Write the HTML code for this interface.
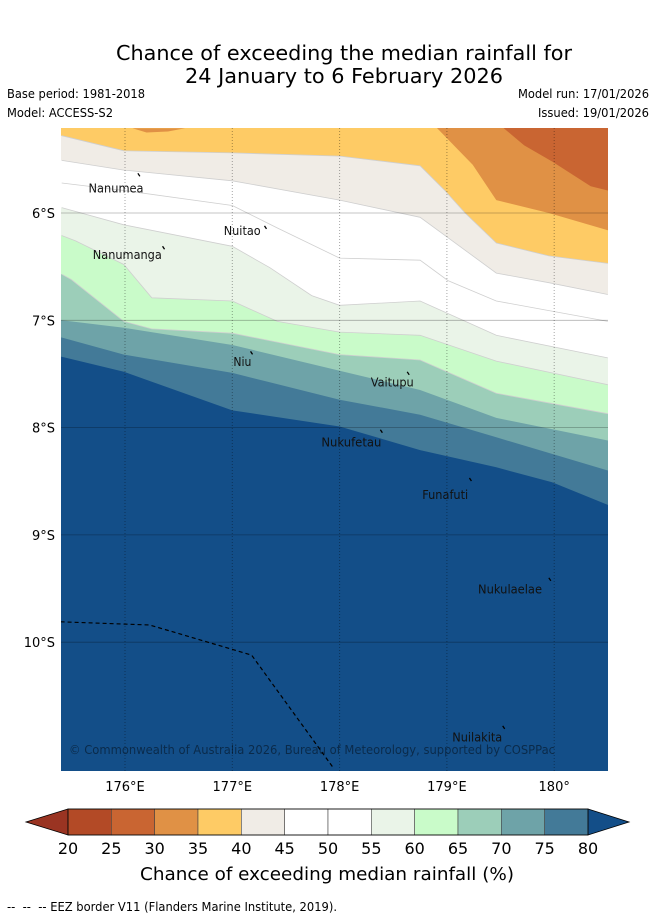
<!DOCTYPE html>
<html><head><meta charset="utf-8"><style>
html,body{margin:0;padding:0;background:#fff;}
svg{display:block;font-family:"DejaVu Sans","Liberation Sans",sans-serif;}
</style></head><body>
<svg id="chart" width="655" height="919" viewBox="0 0 655 919">
<text x="344" y="60" font-size="20" text-anchor="middle" textLength="456" lengthAdjust="spacingAndGlyphs">Chance of exceeding the median rainfall for</text>
<text x="344" y="83" font-size="20" text-anchor="middle" textLength="318" lengthAdjust="spacingAndGlyphs">24 January to 6 February 2026</text>
<text x="7" y="98" font-size="12" textLength="138" lengthAdjust="spacingAndGlyphs">Base period: 1981-2018</text>
<text x="7" y="117" font-size="12" textLength="106" lengthAdjust="spacingAndGlyphs">Model: ACCESS-S2</text>
<text x="649" y="98" font-size="12" text-anchor="end" textLength="131" lengthAdjust="spacingAndGlyphs">Model run: 17/01/2026</text>
<text x="649" y="117" font-size="12" text-anchor="end" textLength="111" lengthAdjust="spacingAndGlyphs">Issued: 19/01/2026</text>
<defs><clipPath id="mapclip"><rect x="61" y="128" width="547" height="643"/></clipPath></defs>
<g id="map" clip-path="url(#mapclip)"></g>
<g id="axes"></g>
<g id="cbar"></g>
<text x="327" y="880" font-size="18" text-anchor="middle" textLength="374" lengthAdjust="spacingAndGlyphs">Chance of exceeding median rainfall (%)</text>
<text x="7" y="911" font-size="12" textLength="330" lengthAdjust="spacingAndGlyphs">-- &#160;-- &#160;-- EEZ border V11 (Flanders Marine Institute, 2019).</text>
</svg>
<script>
// ---- data ----
const thresholds = [20,25,30,35,40,45,50,55,60,65,70,75,80];
const bandColors = ["#9a3422","#b34a26","#c96532","#e09145","#fecb65","#f0ece6","#ffffff","#ffffff","#eaf4e8","#c9fbc9","#9cceb9","#6ea3a8","#437a98","#134e88"];
const lonTicks = [176,177,178,179,180];
const latTicks = [6,7,8,9,10];
// contour boundaries (lon, lat south)
const c25Lon = [179.53,179.72,179.98,180.34,180.5];
const c25Lat = [5.21,5.37,5.52,5.75,5.79];
const c30Lon = [178.91,179.24,179.46,179.95,180.5];
const c30Lat = [5.21,5.55,5.88,6.0,6.16];
const c35Lon = [175.41,175.99,177.0,178.0,178.75,178.98,179.17,179.46,179.95,180.5];
const c35Lat = [5.28,5.42,5.44,5.47,5.56,5.79,6.0,6.28,6.40,6.47];
const c40Lon = [175.41,175.99,177.0,178.0,178.75,179.01,179.46,179.95,180.5];
const c40Lat = [5.51,5.60,5.70,5.88,6.04,6.23,6.56,6.65,6.76];
const c45Lon = [175.41,175.99,177.0,177.42,178.0,178.75,179.01,179.46,180.5];
const c45Lat = [5.72,5.79,5.93,6.14,6.42,6.44,6.63,6.82,7.01];
const c50Lon = [175.41,175.99,177.0,177.35,177.74,178.0,178.75,179.46,180.5];
const c50Lat = [5.95,6.11,6.31,6.51,6.77,6.86,6.82,7.14,7.35];
const c55Lon = [175.41,175.54,175.99,176.25,177.0,177.42,178.0,178.75,179.46,180.5];
const c55Lat = [6.21,6.26,6.48,6.79,6.82,7.01,7.11,7.14,7.38,7.60];
const c60Lon = [175.41,175.50,175.99,176.25,177.0,178.0,178.75,179.46,180.5];
const c60Lat = [6.57,6.62,7.01,7.08,7.12,7.32,7.37,7.68,7.87];
const c65Lon = [175.41,175.99,177.0,178.0,178.75,179.46,180.5];
const c65Lat = [7.0,7.07,7.23,7.47,7.65,7.91,8.12];
const c70Lon = [175.41,175.99,177.0,178.0,178.75,179.46,180.5];
const c70Lat = [7.16,7.32,7.49,7.74,7.88,8.09,8.40];
const c75Lon = [175.41,175.99,177.0,178.0,178.75,179.46,179.98,180.5];
const c75Lat = [7.34,7.48,7.84,7.99,8.21,8.37,8.51,8.72];
const patchLon = [176.07,176.2,176.4,176.56];
const patchLat = [5.21,5.25,5.24,5.21];
const eezLon = [175.4,176.23,177.18,177.94];
const eezLat = [9.81,9.84,10.12,11.17];
const islandNames = ["Nanumea","Nuitao","Nanumanga","Niu","Vaitupu","Nukufetau","Funafuti","Nukulaelae","Nuilakita"];
const islandLon = [176.12,177.30,176.35,177.17,178.63,178.38,179.21,179.95,179.52];
const islandLat = [5.63,6.12,6.31,7.29,7.48,8.02,8.47,9.40,10.78];
const labelLon = [175.66,176.92,175.70,177.01,178.29,177.83,178.77,179.29,179.05];
const labelLat = [5.77,6.17,6.39,7.39,7.58,8.14,8.63,9.51,10.89];
const labelWidth = [55,37,69,18,43,60,46,64,50];

// ---- scales ----
const X = lon => 125 + (lon-176)*107.3;
const Y = lat => 213 + (lat-6)*107.3;
const NS = "http://www.w3.org/2000/svg";
function mk(tag, attrs, parent){const e=document.createElementNS(NS,tag);for(const k in attrs)e.setAttribute(k,attrs[k]);parent.appendChild(e);return e;}
const map = document.getElementById('map');

let bg = mk('rect',{x:61,y:128,width:547,height:643,fill:bandColors[4]},map);



function ptsOf(lons,lats){return lons.map((l,i)=>X(l).toFixed(1)+','+Y(lats[i]).toFixed(1));}
function above(lons,lats,color,name){
  const p=ptsOf(lons,lats);
  p.push(X(180.6)+','+Y(lats[lats.length-1]),X(180.6)+','+Y(5.1),X(lons[0])+','+Y(5.1));
  const e=mk('polygon',{points:p.join(' '),fill:color},map);
  
  
}
above(c30Lon,c30Lat,bandColors[3],'band-30-35');
above(c25Lon,c25Lat,bandColors[2],'band-25-30');
{
  const p=ptsOf(patchLon,patchLat);
  const e=mk('polygon',{points:p.join(' '),fill:bandColors[3]},map);
  
  
}
const below=[[c35Lon,c35Lat,5,'band-40-45'],[c40Lon,c40Lat,6,'band-45-50'],[c45Lon,c45Lat,7,'band-50-55'],[c50Lon,c50Lat,8,'band-55-60'],[c55Lon,c55Lat,9,'band-60-65'],[c60Lon,c60Lat,10,'band-65-70'],[c65Lon,c65Lat,11,'band-70-75'],[c70Lon,c70Lat,12,'band-75-80'],[c75Lon,c75Lat,13,'band-above-80']];
below.forEach(([lons,lats,ci,name])=>{
  const p=ptsOf(lons,lats);
  p.push(X(180.6)+','+Y(lats[lats.length-1]),X(180.6)+','+Y(11.3),X(175.3)+','+Y(11.3),X(175.3)+','+Y(lats[0]));
  const e=mk('polygon',{points:p.join(' '),fill:bandColors[ci]},map);
  
  
  if(ci<=10){
    const l=mk('polyline',{points:ptsOf(lons,lats).join(' '),fill:'none',stroke:'#cfcfcf','stroke-width':0.8},map);
    
    
  }
});
lonTicks.forEach(t=>{
  const g=mk('line',{x1:X(t),x2:X(t),y1:128,y2:771,stroke:'#000','stroke-opacity':0.35,'stroke-width':1,'stroke-dasharray':'1,2'},map);
  
  
});
latTicks.forEach(t=>{
  const g=mk('line',{x1:61,x2:608,y1:Y(t),y2:Y(t),stroke:'#000','stroke-opacity':0.3,'stroke-width':0.8},map);
  
  
});
{
  const e=mk('polyline',{points:ptsOf(eezLon,eezLat).join(' '),fill:'none',stroke:'#000','stroke-width':1.2,'stroke-dasharray':'4,3'},map);
  
  
}
islandNames.forEach((n,i)=>{
  const m=mk('line',{x1:X(islandLon[i]),y1:Y(islandLat[i]),x2:X(islandLon[i])+2,y2:Y(islandLat[i])+3,stroke:'#000','stroke-width':1.3},map);
  
  
  const t=mk('text',{x:X(labelLon[i]),y:Y(labelLat[i])+4,'font-size':12,fill:'#111',textLength:labelWidth[i],lengthAdjust:'spacingAndGlyphs'},map);
  t.textContent=n;
  
  
});
{
  const t=mk('text',{x:69,y:754,'font-size':12,fill:'#000','fill-opacity':0.45,textLength:486,lengthAdjust:'spacingAndGlyphs'},map);
  t.textContent='© Commonwealth of Australia 2026, Bureau of Meteorology, supported by COSPPac';
  
  
}
const axes=document.getElementById('axes');
lonTicks.forEach(t=>{
  const e=mk('text',{x:X(t),y:791,'font-size':13,'text-anchor':'middle'},axes);
  e.textContent=(t===180?'180°':t+'°E');
  
  
});
latTicks.forEach(t=>{
  const e=mk('text',{x:55,y:Y(t)+5,'font-size':13,'text-anchor':'end'},axes);
  e.textContent=t+'°S';
  
  
});
const cb=document.getElementById('cbar');
const cbX0=68,cbX1=588,cbY0=809,cbY1=835;
const segW=(cbX1-cbX0)/(thresholds.length-1);
{
  const e=mk('polygon',{points:`${cbX0},${cbY0} 26,${(cbY0+cbY1)/2} ${cbX0},${cbY1}`,fill:bandColors[0],stroke:'#000','stroke-width':0.8},cb);
  
  
  const f=mk('polygon',{points:`${cbX1},${cbY0} 629,${(cbY0+cbY1)/2} ${cbX1},${cbY1}`,fill:bandColors[13],stroke:'#000','stroke-width':0.8},cb);
  
  
}
for(let i=0;i<thresholds.length-1;i++){
  const e=mk('rect',{x:cbX0+i*segW,y:cbY0,width:segW,height:cbY1-cbY0,fill:bandColors[i+1],stroke:'#444','stroke-width':0.6},cb);
  
  
}
mk('rect',{x:cbX0,y:cbY0,width:cbX1-cbX0,height:cbY1-cbY0,fill:'none',stroke:'#000','stroke-width':0.8},cb);
thresholds.forEach((t,i)=>{
  const e=mk('text',{x:cbX0+i*segW,y:854,'font-size':16,'text-anchor':'middle'},cb);
  e.textContent=t;
  
  
});
</script>
</body></html>
